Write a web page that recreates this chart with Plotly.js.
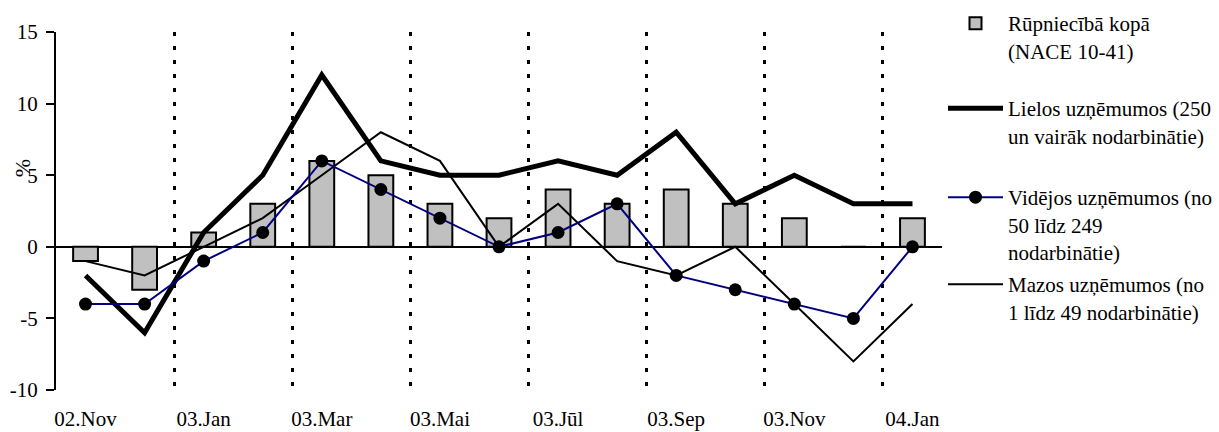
<!DOCTYPE html>
<html>
<head>
<meta charset="utf-8">
<script src="https://cdn.plot.ly/plotly-3.0.1.min.js"></script>
<style>html,body{margin:0;padding:0;background:#fff;}#chart{width:1219px;height:432px;}</style>
</head>
<body>
<div id="chart"></div>
<script>
const categories = ["02.Nov","02.Dec","03.Jan","03.Feb","03.Mar","03.Apr","03.Mai","03.Jūn","03.Jūl","03.Aug","03.Sep","03.Okt","03.Nov","03.Dec","04.Jan"];
const tickLabels = ["02.Nov","03.Jan","03.Mar","03.Mai","03.Jūl","03.Sep","03.Nov","04.Jan"];
const rupnieciba = [-1,-3,1,3,6,5,3,2,4,3,4,3,2,0,2];
const lielos = [-2,-6,1,5,12,6,5,5,6,5,8,3,5,3,3];
const videjos = [-4,-4,-1,1,6,4,2,0,1,3,-2,-3,-4,-5,0];
const mazos = [-1,-2,0,2,5,8,6,0,3,-1,-2,0,-4,-8,-4];
const names = ["Rūpniecībā kopā<br>(NACE 10-41)","Lielos uzņēmumos (250<br>un vairāk nodarbinātie)","Vidējos uzņēmumos (no<br>50 līdz 249<br>nodarbinātie)","Mazos uzņēmumos (no<br>1 līdz 49 nodarbinātie)"];
const yTicks = [-10,-5,0,5,10,15];
const yTickText = ["-10","-5","0","5","10","15"];
const gridVals = [1.5,3.5,5.5,7.5,9.5,11.5,13.5];

const F = "Liberation Serif";
const traces = [
  {type:'scatter', mode:'none', x:[], y:[], xaxis:'x2', showlegend:false, hoverinfo:'skip'},
  {type:'bar', x:categories, y:rupnieciba, name:names[0], width:0.42,
   marker:{color:'#c0c0c0', line:{color:'#000', width:2}}, legend:'legend'},
  {type:'scatter', mode:'lines', x:categories, y:mazos, name:names[3],
   line:{color:'#000', width:2}, legend:'legend4'},
  {type:'scatter', mode:'lines', x:categories, y:lielos, name:names[1],
   line:{color:'#000', width:5}, legend:'legend2'},
  {type:'scatter', mode:'lines+markers', x:categories, y:videjos, name:names[2],
   line:{color:'#000080', width:2}, marker:{symbol:'circle', size:13, color:'#000'}, legend:'legend3'}
];
function leg(topPx){
  return {xref:'container', yref:'container', x:943/1219, y:1-topPx/432, xanchor:'left', yanchor:'top',
    font:{family:F, size:21, color:'#000'}, itemwidth:55, bgcolor:'rgba(0,0,0,0)', valign:'top', tracegroupgap:0};
}
const layout = {
  width:1219, height:432,
  margin:{l:56, r:277, t:32, b:42},
  paper_bgcolor:'#fff', plot_bgcolor:'rgba(0,0,0,0)',
  font:{family:F, size:21, color:'#000'},
  showlegend:true,
  legend:leg(3), legend2:leg(88), legend3:leg(177), legend4:leg(264),
  xaxis:{type:'category', range:[-0.5,14.5], tickmode:'array', tickvals:tickLabels, ticktext:tickLabels,
    showgrid:false, zeroline:false, showline:false, ticks:'', ticklabelstandoff:14,
    tickfont:{family:F, size:21}},
  xaxis2:{overlaying:'x', anchor:'y', type:'linear', range:[-0.5,14.5], tickmode:'array', tickvals:gridVals,
    showticklabels:false, ticks:'', showgrid:true, gridcolor:'#000', gridwidth:3, griddash:'4px,10px',
    zeroline:false, showline:false},
  yaxis:{range:[-10,15], tickmode:'array', tickvals:yTicks, ticktext:yTickText, showgrid:false,
    zeroline:true, zerolinecolor:'#000', zerolinewidth:2,
    showline:true, linecolor:'#000', linewidth:2, ticks:'outside', ticklen:8, tickwidth:2, tickcolor:'#000',
    tickfont:{family:F, size:21}, ticklabelstandoff:4},
  bargap:0.5,
  annotations:[{text:'%', xref:'paper', yref:'paper', x:-0.038, y:0.62, showarrow:false, textangle:-90,
    font:{family:F, size:22, color:'#000'}, xanchor:'center', yanchor:'middle'}]
};
Plotly.newPlot('chart', traces, layout, {displayModeBar:false, staticPlot:true});
</script>
</body>
</html>
